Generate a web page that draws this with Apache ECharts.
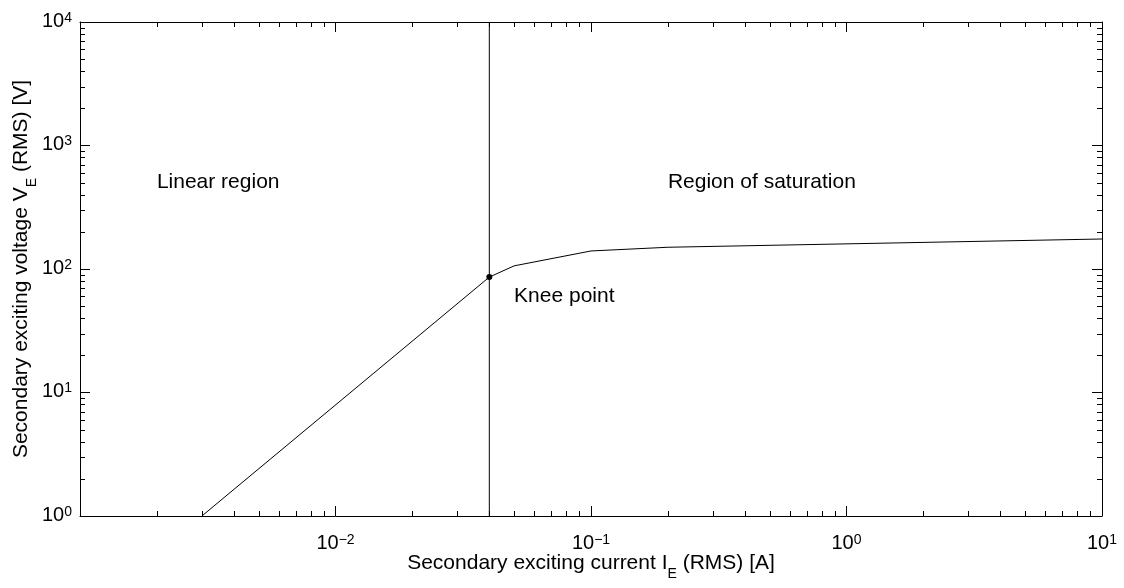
<!DOCTYPE html>
<html><head><meta charset="utf-8">
<script src="https://cdn.jsdelivr.net/npm/echarts@6/dist/echarts.min.js"></script>
<style>html,body{margin:0;padding:0;background:#fff}#c{width:1124px;height:588px}</style>
</head><body><div id="c"></div>
<script>
// ---- data ----
const curveI = [0.003, 0.04, 0.05, 0.1, 0.2, 10];
const curveV = [1, 86, 106, 140, 150, 175];
const kneeI = [0.04];
const kneeV = [86];
const vlineI = [0.04, 0.04];
const vlineV = [1, 10000];
const noteText = ['Linear region', 'Region of saturation', 'Knee point'];
const noteI = [0.002, 0.2, 0.05];
const noteV = [500, 500, 60];
const xTickValues = [0.01, 0.1, 1, 10];
const xTickExp = ['\u22122', '\u22121', '0', '1'];
const yTickValues = [1, 10, 100, 1000, 10000];
const yTickExp = ['0', '1', '2', '3', '4'];
const minorMant = [2, 3, 4, 5, 6, 7, 8, 9];
const xDecades = [0.001, 0.01, 0.1, 1];
const yDecades = [1, 10, 100, 1000];

const FONT = '"Liberation Sans", Arial, Helvetica, sans-serif';
const xMinor = [];
xDecades.forEach(d => minorMant.forEach(m => xMinor.push(m * d)));
const yMinor = [];
yDecades.forEach(d => minorMant.forEach(m => yMinor.push(m * d)));

function lookup(vals, labels, v) {
  for (let i = 0; i < vals.length; i++) {
    if (Math.abs(Math.log10(v) - Math.log10(vals[i])) < 1e-6) return labels[i];
  }
  return null;
}
const richTick = {
  b: {fontSize: 20, lineHeight: 22, fontFamily: FONT, color: '#000', verticalAlign: 'top'},
  s: {fontSize: 14, lineHeight: 14, fontFamily: FONT, color: '#000', verticalAlign: 'top'}
};
const richName = {
  m: {fontSize: 21, lineHeight: 21, fontFamily: FONT, color: '#000', verticalAlign: 'top'},
  sub: {fontSize: 14, lineHeight: 14, fontFamily: FONT, color: '#000', verticalAlign: 'top', padding: [14, 0, 0, 0]}
};
const axisCommon = {
  type: 'log', logBase: 10,
  axisLine: {show: true, lineStyle: {color: '#000', width: 1}},
  axisTick: {show: true, inside: true, length: 10, lineStyle: {color: '#000', width: 1}},
  splitLine: {show: false},
  minorTick: {show: false}
};

function minorTickSeries(isX) {
  return {
    type: 'custom', silent: true, clip: false, z: 5,
    xAxisIndex: 0, yAxisIndex: 0,
    data: (isX ? xMinor : yMinor).map(v => isX ? [v, 1] : [0.001, v]),
    encode: {x: 0, y: 1},
    renderItem: function (params, api) {
      const cs = params.coordSys;
      const p = api.coord([api.value(0), api.value(1)]);
      const st = {stroke: '#000', lineWidth: 1};
      const L = 5;
      if (isX) {
        const x = Math.round(p[0]) + 0.5;
        const b = cs.y + cs.height, t = cs.y;
        return {type: 'group', children: [
          {type: 'line', shape: {x1: x, y1: b, x2: x, y2: b - L}, style: st},
          {type: 'line', shape: {x1: x, y1: t, x2: x, y2: t + L}, style: st}
        ]};
      } else {
        const y = Math.round(p[1]) + 0.5;
        const l = cs.x, r = cs.x + cs.width;
        return {type: 'group', children: [
          {type: 'line', shape: {x1: l, y1: y, x2: l + L, y2: y}, style: st},
          {type: 'line', shape: {x1: r, y1: y, x2: r - L, y2: y}, style: st}
        ]};
      }
    }
  };
}

const chart = echarts.init(document.getElementById('c'), null, {renderer: 'canvas'});
chart.setOption({
  animation: false,
  backgroundColor: '#fff',
  grid: {left: 80, top: 22, width: 1022, height: 494, containLabel: false, outerBoundsMode: 'none'},
  xAxis: [
    Object.assign({}, axisCommon, {
      position: 'bottom', min: 0.001, max: 10,
      axisLabel: {
        margin: 17, rich: richTick,
        formatter: v => { const e = lookup(xTickValues, xTickExp, v); return e === null ? '' : '{b|10}{s|' + e + '}'; }
      },
      name: '{m|Secondary exciting current I}{sub|E}{m| (RMS) [A]}',
      nameLocation: 'middle', nameGap: 37, nameMoveOverlap: false,
      nameTextStyle: {rich: richName}
    }),
    Object.assign({}, axisCommon, {
      position: 'top', min: 0.001, max: 10, axisLabel: {show: false}
    })
  ],
  yAxis: [
    Object.assign({}, axisCommon, {
      position: 'left', min: 1, max: 10000,
      axisLabel: {
        margin: 8, rich: richTick,
        formatter: v => { const e = lookup(yTickValues, yTickExp, v); return e === null ? '' : '{b|10}{s|' + e + '}'; }
      },
      name: '{m|Secondary exciting voltage V}{sub|E}{m| (RMS) [V]}',
      nameLocation: 'middle', nameGap: 48, nameMoveOverlap: false,
      nameTextStyle: {rich: richName}
    }),
    Object.assign({}, axisCommon, {
      position: 'right', min: 1, max: 10000, axisLabel: {show: false}
    })
  ],
  series: [
    {
      type: 'line', data: curveI.map((x, i) => [x, curveV[i]]),
      symbol: 'none', lineStyle: {color: '#000', width: 1}, z: 3
    },
    {
      type: 'line', data: vlineI.map((x, i) => [x, vlineV[i]]),
      symbol: 'none', lineStyle: {color: '#000', width: 1}, z: 3
    },
    {
      type: 'scatter', data: kneeI.map((x, i) => [x, kneeV[i]]),
      symbol: 'circle', symbolSize: 6, itemStyle: {color: '#000', opacity: 1}, z: 4
    },
    {
      type: 'scatter', symbolSize: 0, z: 4,
      itemStyle: {opacity: 1},
      data: noteText.map((t, i) => ({value: [noteI[i], noteV[i]], name: t})),
      label: {
        show: true, position: 'right', distance: 0,
        formatter: p => p.name, fontSize: 21, fontFamily: FONT, color: '#000', opacity: 1
      }
    },
    minorTickSeries(true),
    minorTickSeries(false)
  ]
});
</script>
</body></html>
